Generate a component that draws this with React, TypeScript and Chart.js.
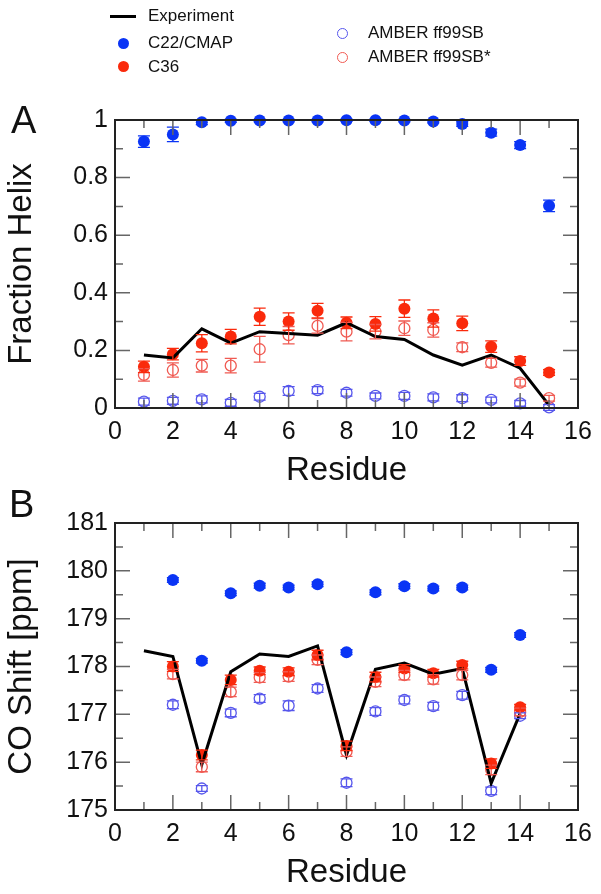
import React, { useEffect, useRef } from "react";
import { Chart, registerables } from "chart.js";

Chart.register(...registerables);

// ---------- Panel A: Fraction Helix ----------
const residuesA = [1, 2, 3, 4, 5, 6, 7, 8, 9, 10, 11, 12, 13, 14, 15];
const expA = [0.184, 0.174, 0.275, 0.225, 0.265, 0.259, 0.253, 0.296, 0.248, 0.238, 0.184, 0.149, 0.184, 0.138, 0.01];
const c22A = [0.925, 0.95, 0.992, 0.997, 0.998, 0.998, 0.998, 0.999, 0.999, 0.998, 0.995, 0.986, 0.956, 0.913, 0.702];
const c22ErrA = [0.02, 0.025, 0.008, 0.005, 0.004, 0.004, 0.004, 0.004, 0.004, 0.004, 0.005, 0.008, 0.012, 0.012, 0.02];
const c36A = [0.143, 0.187, 0.225, 0.248, 0.317, 0.3, 0.338, 0.296, 0.292, 0.345, 0.311, 0.294, 0.213, 0.163, 0.123];
const c36ErrA = [0.02, 0.02, 0.03, 0.025, 0.03, 0.03, 0.025, 0.02, 0.025, 0.03, 0.03, 0.025, 0.02, 0.015, 0.01];
const ffA = [0.022, 0.025, 0.03, 0.018, 0.039, 0.059, 0.062, 0.053, 0.042, 0.042, 0.037, 0.034, 0.028, 0.016, 0.002];
const ffErrA = [0.012, 0.012, 0.012, 0.012, 0.012, 0.015, 0.012, 0.012, 0.01, 0.012, 0.012, 0.012, 0.01, 0.01, 0.01];
const ffsA = [0.115, 0.132, 0.147, 0.147, 0.204, 0.253, 0.285, 0.265, 0.265, 0.277, 0.271, 0.211, 0.157, 0.088, 0.034];
const ffsErrA = [0.022, 0.025, 0.022, 0.025, 0.045, 0.03, 0.025, 0.032, 0.025, 0.025, 0.025, 0.015, 0.015, 0.012, 0.01];

const xTicksMajor = [0, 2, 4, 6, 8, 10, 12, 14, 16];
const xTickLabels = ["0", "2", "4", "6", "8", "10", "12", "14", "16"];
const xTicksMinor = [1, 3, 5, 7, 9, 11, 13, 15];
const yTicksMajorA = [0, 0.2, 0.4, 0.6, 0.8, 1];
const yTickLabelsA = ["0", "0.2", "0.4", "0.6", "0.8", "1"];
const yTicksMinorA = [0.1, 0.3, 0.5, 0.7, 0.9];

// ---------- Panel B: CO Shift ----------
const residuesExpB = [1, 2, 3, 4, 5, 6, 7, 8, 9, 10, 11, 12, 13, 14];
const expB = [178.33, 178.21, 175.95, 177.89, 178.26, 178.21, 178.43, 176.15, 177.94, 178.07, 177.84, 177.96, 175.56, 177.02];
const residuesB = [2, 3, 4, 5, 6, 7, 8, 9, 10, 11, 12, 13, 14];
const c22B = [179.81, 178.12, 179.53, 179.69, 179.65, 179.72, 178.3, 179.55, 179.68, 179.63, 179.65, 177.93, 178.66];
const c22ErrB = [0.05, 0.05, 0.05, 0.05, 0.05, 0.05, 0.05, 0.05, 0.05, 0.05, 0.05, 0.05, 0.05];
const c36B = [178.0, 176.15, 177.72, 177.91, 177.89, 178.24, 176.34, 177.78, 177.96, 177.86, 178.03, 175.97, 177.15];
const c36ErrB = [0.1, 0.1, 0.1, 0.08, 0.08, 0.1, 0.1, 0.1, 0.08, 0.08, 0.08, 0.1, 0.06];
const ffB = [177.2, 175.45, 177.03, 177.33, 177.18, 177.54, 175.57, 177.06, 177.3, 177.17, 177.4, 175.4, 176.97];
const ffErrB = [0.08, 0.06, 0.08, 0.08, 0.1, 0.08, 0.08, 0.08, 0.08, 0.08, 0.08, 0.08, 0.06];
const ffsB = [177.84, 175.9, 177.47, 177.77, 177.79, 178.14, 176.22, 177.68, 177.82, 177.73, 177.82, 175.84, 177.05];
const ffsErrB = [0.1, 0.1, 0.1, 0.1, 0.1, 0.1, 0.1, 0.1, 0.1, 0.1, 0.1, 0.1, 0.08];

const yTicksMajorB = [175, 176, 177, 178, 179, 180, 181];
const yTickLabelsB = ["175", "176", "177", "178", "179", "180", "181"];
const yTicksMinorB = [175.5, 176.5, 177.5, 178.5, 179.5, 180.5];

// ---------- Styles ----------
const FONT = "'Liberation Sans', Arial, Helvetica, sans-serif";
const BLUE = "#0a34f5";
const RED = "#fa2a0c";
const BLUE_OPEN = "#5656ec";
const RED_OPEN = "#f05a52";

const pts = (xs: number[], ys: number[]) => xs.map((x, i) => ({ x, y: ys[i] }));

const errorBarPlugin = {
  id: "errorBars",
  afterDatasetsDraw(chart: any) {
    const ctx = chart.ctx;
    const ys = chart.scales.y;
    chart.data.datasets.forEach((ds: any, i: number) => {
      const errs = ds.errors;
      if (!errs) return;
      const meta = chart.getDatasetMeta(i);
      ctx.save();
      ctx.strokeStyle = ds.borderColor;
      ctx.lineWidth = 1.3;
      meta.data.forEach((pt: any, j: number) => {
        const v = ds.data[j].y;
        const e = errs[j];
        const y1 = ys.getPixelForValue(v - e);
        const y2 = ys.getPixelForValue(v + e);
        const cw = 6;
        ctx.beginPath();
        ctx.moveTo(pt.x, y1);
        ctx.lineTo(pt.x, y2);
        ctx.moveTo(pt.x - cw, y1);
        ctx.lineTo(pt.x + cw, y1);
        ctx.moveTo(pt.x - cw, y2);
        ctx.lineTo(pt.x + cw, y2);
        ctx.stroke();
      });
      ctx.restore();
    });
  },
};

const frameTicksPlugin = {
  id: "frameTicks",
  afterDatasetsDraw(chart: any, _args: any, opts: any) {
    const ctx = chart.ctx;
    const { left, right, top, bottom } = chart.chartArea;
    const xs = chart.scales.x;
    const ys = chart.scales.y;
    ctx.save();
    ctx.strokeStyle = "#666";
    ctx.lineWidth = 1.5;
    const drawX = (vals: number[], len: number) => {
      vals.forEach((v) => {
        const p = xs.getPixelForValue(v);
        ctx.beginPath();
        ctx.moveTo(p, bottom);
        ctx.lineTo(p, bottom - len);
        ctx.moveTo(p, top);
        ctx.lineTo(p, top + len);
        ctx.stroke();
      });
    };
    const drawY = (vals: number[], len: number) => {
      vals.forEach((v) => {
        const p = ys.getPixelForValue(v);
        ctx.beginPath();
        ctx.moveTo(left, p);
        ctx.lineTo(left + len, p);
        ctx.moveTo(right, p);
        ctx.lineTo(right - len, p);
        ctx.stroke();
      });
    };
    drawX(opts.xMajor, 15);
    drawX(opts.xMinor, 8);
    drawY(opts.yMajor, 15);
    drawY(opts.yMinor, 8);
    ctx.strokeStyle = "#222";
    ctx.lineWidth = 2;
    ctx.strokeRect(left, top, right - left, bottom - top);
    ctx.restore();
  },
};

function makeConfig(p: {
  datasets: any[];
  yMin: number;
  yMax: number;
  yMajor: number[];
  yLabels: string[];
  yMinor: number[];
  yTitle: string;
  padTop: number;
  xHeight: number;
  xTitlePadBottom: number;
}) {
  return {
    type: "scatter" as const,
    data: { datasets: p.datasets },
    options: {
      animation: false,
      responsive: false,
      maintainAspectRatio: false,
      layout: { padding: { left: 0, top: p.padTop, right: 23, bottom: 0 } },
      plugins: {
        legend: { display: false },
        tooltip: { enabled: false },
        frameTicks: { xMajor: xTicksMajor, xMinor: xTicksMinor, yMajor: p.yMajor, yMinor: p.yMinor },
      },
      scales: {
        x: {
          type: "linear",
          min: 0,
          max: 16,
          grid: { display: false, drawTicks: false },
          border: { display: false },
          afterBuildTicks: (s: any) => {
            s.ticks = xTicksMajor.map((v) => ({ value: v }));
          },
          afterFit: (s: any) => {
            s.height = p.xHeight;
          },
          ticks: {
            padding: 9,
            color: "#111",
            font: { family: FONT, size: 25 },
            maxRotation: 0,
            autoSkip: false,
            callback: (v: number) => xTickLabels[xTicksMajor.indexOf(v)] ?? "",
          },
          title: {
            display: true,
            text: "Residue",
            color: "#111",
            font: { family: FONT, size: 33 },
            padding: { top: 0, bottom: p.xTitlePadBottom },
          },
        },
        y: {
          type: "linear",
          min: p.yMin,
          max: p.yMax,
          grid: { display: false, drawTicks: false },
          border: { display: false },
          afterBuildTicks: (s: any) => {
            s.ticks = p.yMajor.map((v) => ({ value: v }));
          },
          afterFit: (s: any) => {
            s.width = 115;
          },
          ticks: {
            padding: 7,
            color: "#111",
            font: { family: FONT, size: 25 },
            autoSkip: false,
            callback: (v: number) => {
              const i = p.yMajor.findIndex((m) => Math.abs(m - v) < 1e-9);
              return i >= 0 ? p.yLabels[i] : "";
            },
          },
          title: {
            display: true,
            text: p.yTitle,
            color: "#111",
            font: { family: FONT, size: 33 },
            padding: { top: 2, bottom: 0 },
          },
        },
      },
    },
    plugins: [errorBarPlugin, frameTicksPlugin],
  };
}

function markerSets(
  xs: number[],
  ff: number[], ffErr: number[],
  ffs: number[], ffsErr: number[],
  c36: number[], c36Err: number[],
  c22: number[], c22Err: number[]
) {
  return [
    {
      label: "AMBER ff99SB",
      data: pts(xs, ff),
      errors: ffErr,
      pointStyle: "circle",
      pointRadius: 5.5,
      backgroundColor: "rgba(0,0,0,0)",
      borderColor: BLUE_OPEN,
      borderWidth: 1.3,
      clip: false,
      order: 5,
    },
    {
      label: "AMBER ff99SB*",
      data: pts(xs, ffs),
      errors: ffsErr,
      pointStyle: "circle",
      pointRadius: 5.5,
      backgroundColor: "rgba(0,0,0,0)",
      borderColor: RED_OPEN,
      borderWidth: 1.3,
      clip: false,
      order: 4,
    },
    {
      label: "C36",
      data: pts(xs, c36),
      errors: c36Err,
      pointStyle: "circle",
      pointRadius: 6,
      backgroundColor: RED,
      borderColor: RED,
      borderWidth: 0,
      clip: false,
      order: 3,
    },
    {
      label: "C22/CMAP",
      data: pts(xs, c22),
      errors: c22Err,
      pointStyle: "circle",
      pointRadius: 6,
      backgroundColor: BLUE,
      borderColor: BLUE,
      borderWidth: 0,
      clip: false,
      order: 2,
    },
  ];
}

function expSet(xs: number[], ys: number[]) {
  return {
    type: "line",
    label: "Experiment",
    data: pts(xs, ys),
    showLine: true,
    borderColor: "#000",
    backgroundColor: "#000",
    borderWidth: 3,
    pointRadius: 0,
    tension: 0,
    clip: false,
    order: 1,
  };
}

function Legend() {
  const text: React.CSSProperties = {
    position: "absolute",
    fontFamily: FONT,
    fontSize: 17,
    color: "#111",
    lineHeight: "20px",
    whiteSpace: "nowrap",
  };
  const dot = (x: number, y: number, color: string, filled: boolean): React.CSSProperties => ({
    position: "absolute",
    left: x - 5.5,
    top: y - 5.5,
    width: filled ? 11 : 9,
    height: filled ? 11 : 9,
    borderRadius: "50%",
    background: filled ? color : "transparent",
    border: filled ? "none" : `1.2px solid ${color}`,
  });
  return (
    <>
      <div style={{ position: "absolute", left: 110, top: 15, width: 26, height: 3, background: "#000" }} />
      <div style={{ ...text, left: 148, top: 6 }}>Experiment</div>
      <div style={dot(123, 43, BLUE, true)} />
      <div style={{ ...text, left: 148, top: 33 }}>C22/CMAP</div>
      <div style={dot(123, 66, RED, true)} />
      <div style={{ ...text, left: 148, top: 57 }}>C36</div>
      <div style={dot(342, 33, BLUE_OPEN, false)} />
      <div style={{ ...text, left: 368, top: 23 }}>AMBER ff99SB</div>
      <div style={dot(342, 57, RED_OPEN, false)} />
      <div style={{ ...text, left: 368, top: 47 }}>AMBER ff99SB*</div>
    </>
  );
}

export default function App() {
  const refA = useRef<HTMLCanvasElement | null>(null);
  const refB = useRef<HTMLCanvasElement | null>(null);

  useEffect(() => {
    const chartA = new Chart(
      refA.current as HTMLCanvasElement,
      makeConfig({
        datasets: [
          expSet(residuesA, expA),
          ...markerSets(residuesA, ffA, ffErrA, ffsA, ffsErrA, c36A, c36ErrA, c22A, c22ErrA),
        ],
        yMin: 0,
        yMax: 1,
        yMajor: yTicksMajorA,
        yLabels: yTickLabelsA,
        yMinor: yTicksMinorA,
        yTitle: "Fraction Helix",
        padTop: 120,
        xHeight: 92,
        xTitlePadBottom: 9,
      }) as any
    );
    const chartB = new Chart(
      refB.current as HTMLCanvasElement,
      makeConfig({
        datasets: [
          expSet(residuesExpB, expB),
          ...markerSets(residuesB, ffB, ffErrB, ffsB, ffsErrB, c36B, c36ErrB, c22B, c22ErrB),
        ],
        yMin: 175,
        yMax: 181,
        yMajor: yTicksMajorB,
        yLabels: yTickLabelsB,
        yMinor: yTicksMinorB,
        yTitle: "CO Shift [ppm]",
        padTop: 33,
        xHeight: 84,
        xTitlePadBottom: 1,
      }) as any
    );
    return () => {
      chartA.destroy();
      chartB.destroy();
    };
  }, []);

  const letter: React.CSSProperties = {
    position: "absolute",
    fontFamily: FONT,
    fontSize: 38,
    color: "#111",
    lineHeight: "38px",
  };

  return (
    <div style={{ position: "absolute", left: 0, top: 0, width: 601, height: 894, background: "#fff", overflow: "hidden" }}>
      <canvas ref={refA} width={601} height={500} style={{ position: "absolute", left: 0, top: 0, width: 601, height: 500 }} />
      <canvas ref={refB} width={601} height={404} style={{ position: "absolute", left: 0, top: 490, width: 601, height: 404 }} />
      <Legend />
      <div style={{ ...letter, left: 11, top: 101 }}>A</div>
      <div style={{ ...letter, left: 9, top: 485 }}>B</div>
    </div>
  );
}
